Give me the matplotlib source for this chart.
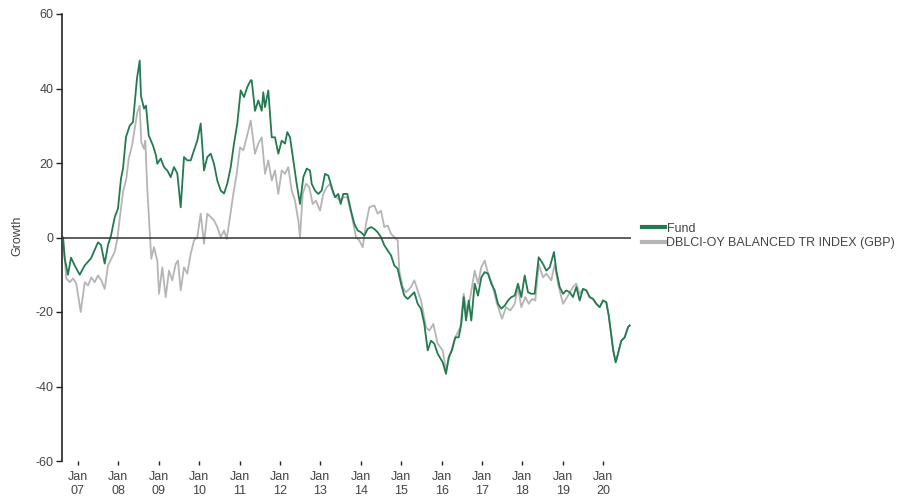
import matplotlib
matplotlib.use("Agg")
import matplotlib.pyplot as plt

plt.rcParams['font.family'] = ['Liberation Sans', 'DejaVu Sans']

# ---- data (decimal years, growth %) ----
fund_t = [2006.629, 2006.671, 2006.752, 2006.827, 2006.918, 2007.042, 2007.166, 2007.322,
          2007.495, 2007.569, 2007.661, 2007.743, 2007.817, 2007.908, 2007.990, 2008.064,
          2008.114, 2008.188, 2008.280, 2008.361, 2008.403, 2008.460, 2008.527, 2008.559,
          2008.634, 2008.683, 2008.750, 2008.856, 2008.931, 2008.963, 2009.047, 2009.129,
          2009.210, 2009.295, 2009.376, 2009.458, 2009.542, 2009.624, 2009.705, 2009.790,
          2009.871, 2009.953, 2010.037, 2010.119, 2010.200, 2010.285, 2010.366, 2010.448,
          2010.532, 2010.614, 2010.696, 2010.780, 2010.861, 2010.943, 2011.027, 2011.109,
          2011.191, 2011.275, 2011.300, 2011.381, 2011.463, 2011.547, 2011.587, 2011.629,
          2011.710, 2011.795, 2011.876, 2011.958, 2012.042, 2012.124, 2012.181, 2012.248,
          2012.329, 2012.413, 2012.495, 2012.577, 2012.661, 2012.743, 2012.785, 2012.866,
          2012.948, 2013.032, 2013.114, 2013.196, 2013.280, 2013.361, 2013.443, 2013.502,
          2013.567, 2013.666, 2013.757, 2013.839, 2013.923, 2014.005, 2014.087, 2014.171,
          2014.252, 2014.334, 2014.418, 2014.500, 2014.582, 2014.666, 2014.748, 2014.829,
          2014.913, 2014.995, 2015.077, 2015.161, 2015.243, 2015.324, 2015.408, 2015.490,
          2015.572, 2015.656, 2015.738, 2015.819, 2015.903, 2016.027, 2016.109, 2016.176,
          2016.257, 2016.339, 2016.423, 2016.488, 2016.547, 2016.604, 2016.671, 2016.735,
          2016.819, 2016.901, 2016.983, 2017.067, 2017.149, 2017.230, 2017.314, 2017.396,
          2017.478, 2017.562, 2017.644, 2017.725, 2017.809, 2017.891, 2017.973, 2018.057,
          2018.139, 2018.220, 2018.304, 2018.403, 2018.510, 2018.592, 2018.676, 2018.782,
          2018.839, 2018.923, 2019.005, 2019.087, 2019.171, 2019.252, 2019.334, 2019.418,
          2019.500, 2019.582, 2019.666, 2019.748, 2019.829, 2019.913, 2019.995, 2020.077,
          2020.136, 2020.186, 2020.248, 2020.309, 2020.366, 2020.448, 2020.532, 2020.614,
          2020.656]
fund_v = [0.0, -5.6, -10.0, -5.4, -7.5, -10.0, -7.5, -5.6,
          -1.3, -2.0, -7.0, -2.0, 0.5, 5.4, 7.8, 15.8,
          18.5, 27.0, 30.0, 31.0, 36.0, 42.7, 47.5, 38.0,
          34.6, 35.4, 27.4, 24.7, 22.0, 19.8, 21.2, 18.9,
          18.0, 16.2, 18.9, 17.2, 8.1, 21.6, 20.7, 20.7,
          23.4, 26.0, 30.6, 18.0, 21.6, 22.5, 19.8, 15.3,
          12.6, 11.8, 14.5, 18.9, 25.2, 30.6, 39.5, 37.7,
          40.4, 42.2, 42.2, 34.0, 36.8, 34.0, 39.0, 35.0,
          39.5, 26.9, 26.9, 22.5, 26.0, 25.2, 28.3, 26.9,
          20.7, 14.4, 9.0, 16.2, 18.5, 18.0, 14.4, 12.6,
          11.7, 12.6, 17.1, 16.6, 13.5, 10.8, 11.7, 9.0,
          11.7, 11.7, 7.2, 3.7, 1.9, 1.4, 0.5, 2.3,
          2.8, 2.3, 1.4, 0.1, -2.1, -3.5, -4.8, -7.5,
          -8.4, -12.4, -15.6, -16.5, -15.6, -14.7, -17.8, -19.1,
          -23.2, -30.3, -27.7, -28.5, -31.2, -33.5, -36.6, -32.1,
          -30.3, -26.8, -26.8, -23.2, -16.0, -22.3, -16.9, -22.3,
          -12.4, -15.6, -10.7, -9.3, -9.7, -12.4, -14.2, -17.8,
          -19.1, -18.3, -16.9, -16.0, -15.6, -12.4, -16.0, -10.2,
          -14.7, -15.1, -15.1, -5.3, -7.1, -8.9, -8.0, -3.9,
          -8.9, -13.3, -15.1, -14.2, -14.7, -16.0, -13.3, -16.9,
          -13.8, -14.2, -16.0, -16.5, -17.8, -18.7, -16.9, -17.4,
          -20.9, -25.0, -30.3, -33.5, -31.2, -27.7, -26.8, -24.1,
          -23.6]

bench_t = [2006.629, 2006.710, 2006.795, 2006.876, 2006.958, 2007.067, 2007.166, 2007.248,
           2007.329, 2007.413, 2007.495, 2007.577, 2007.661, 2007.743, 2007.824, 2007.908,
           2007.973, 2008.032, 2008.114, 2008.196, 2008.255, 2008.337, 2008.403, 2008.468,
           2008.527, 2008.567, 2008.634, 2008.666, 2008.715, 2008.775, 2008.814, 2008.881,
           2008.963, 2009.005, 2009.087, 2009.171, 2009.252, 2009.334, 2009.418, 2009.475,
           2009.542, 2009.624, 2009.705, 2009.790, 2009.871, 2009.953, 2010.037, 2010.119,
           2010.200, 2010.285, 2010.366, 2010.448, 2010.532, 2010.614, 2010.681, 2010.762,
           2010.844, 2010.928, 2011.010, 2011.092, 2011.176, 2011.275, 2011.381, 2011.463,
           2011.547, 2011.629, 2011.710, 2011.795, 2011.876, 2011.958, 2012.042, 2012.124,
           2012.205, 2012.290, 2012.371, 2012.453, 2012.495, 2012.562, 2012.644, 2012.725,
           2012.809, 2012.891, 2012.990, 2013.072, 2013.156, 2013.238, 2013.319, 2013.403,
           2013.485, 2013.567, 2013.666, 2013.800, 2013.881, 2013.963, 2014.047, 2014.129,
           2014.210, 2014.334, 2014.418, 2014.500, 2014.582, 2014.666, 2014.748, 2014.829,
           2014.913, 2014.953, 2015.037, 2015.119, 2015.243, 2015.324, 2015.408, 2015.490,
           2015.614, 2015.696, 2015.795, 2015.903, 2016.027, 2016.109, 2016.215, 2016.339,
           2016.463, 2016.547, 2016.629, 2016.710, 2016.819, 2016.901, 2016.983, 2017.067,
           2017.149, 2017.248, 2017.371, 2017.495, 2017.594, 2017.700, 2017.809, 2017.891,
           2017.973, 2018.072, 2018.158, 2018.238, 2018.319, 2018.403, 2018.510, 2018.592,
           2018.715, 2018.800, 2018.881, 2019.005, 2019.129, 2019.252, 2019.334, 2019.418,
           2019.500, 2019.582, 2019.666, 2019.748, 2019.829, 2019.913, 2019.995, 2020.077,
           2020.136, 2020.186, 2020.248, 2020.309, 2020.366, 2020.448, 2020.532, 2020.614,
           2020.656]
bench_v = [0.0, -11.0, -12.0, -11.0, -12.4, -20.0, -12.0, -12.9,
           -10.7, -12.0, -10.2, -11.5, -13.8, -7.5, -5.7, -3.9,
           -0.4, 5.0, 12.2, 15.8, 21.1, 24.7, 29.2, 33.6,
           35.4, 25.6, 23.8, 26.0, 13.0, 1.4, -5.7, -2.6,
           -6.2, -15.1, -8.0, -16.0, -8.9, -11.5, -7.1, -6.2,
           -14.2, -8.0, -9.7, -4.4, -0.8, 0.1, 6.4, -1.7,
           6.4, 5.5, 4.6, 2.8, 0.1, 1.9, -0.4, 5.5,
           11.7, 17.1, 24.2, 23.4, 26.9, 31.4, 22.5, 25.2,
           26.9, 17.1, 20.7, 15.3, 18.0, 11.7, 18.0, 17.1,
           18.9, 12.6, 9.9, 4.6, 0.1, 11.7, 14.4, 13.5,
           9.0, 9.9, 7.2, 11.7, 13.5, 14.4, 11.7, 10.8,
           9.9, 10.8, 10.8, 4.6, 0.1, -0.8, -2.6, 3.7,
           8.1, 8.6, 6.4, 7.2, 2.8, 3.2, 1.0, 0.1,
           -0.8, -8.9, -13.3, -14.7, -13.3, -11.5, -14.2, -16.9,
           -24.1, -25.0, -23.2, -28.5, -30.3, -35.7, -31.2, -26.8,
           -24.1, -15.1, -20.5, -16.0, -8.9, -12.4, -8.0, -6.2,
           -9.7, -12.4, -17.8, -21.8, -18.7, -19.6, -17.8, -13.3,
           -18.7, -16.0, -17.8, -16.5, -16.9, -7.1, -10.7, -9.7,
           -11.5, -7.1, -12.4, -17.8, -15.6, -13.3, -12.4, -15.1,
           -13.8, -14.2, -16.0, -16.5, -17.8, -18.7, -16.9, -17.4,
           -20.9, -25.0, -30.3, -33.5, -31.2, -27.7, -26.8, -24.1,
           -23.6]

tick_years = list(range(2007, 2021))
tick_labels = ["Jan\n%02d" % (y % 100) for y in tick_years]
y_ticks = [-60, -40, -20, 0, 20, 40, 60]
series_names = ["Fund", "DBLCI-OY BALANCED TR INDEX (GBP)"]

fund_color = "#237a50"
bench_color = "#b5b5b5"
text_color = "#444444"
fs = 9

fig = plt.figure(figsize=(9.11, 4.96), dpi=100)
ax = fig.add_axes([62/911, 35/496, (631-62)/911, (461-14)/496])

ax.plot(bench_t, bench_v, color=bench_color, lw=1.3, label=series_names[1], zorder=2)
ax.plot(fund_t, fund_v, color=fund_color, lw=1.3, label=series_names[0], zorder=3)
ax.axhline(0, color="#333333", lw=1.1, zorder=4)

ax.set_xlim(2006.604, 2020.688)
ax.set_ylim(-60, 60)
ax.set_yticks(y_ticks)
ax.set_yticklabels([str(v) for v in y_ticks])
ax.set_xticks(tick_years)
ax.set_xticklabels(tick_labels, linespacing=1.15)

for s in ["top", "right", "bottom"]:
    ax.spines[s].set_visible(False)
ax.spines["left"].set_color("#222222")
ax.spines["left"].set_linewidth(1.2)
ax.tick_params(axis="y", direction="out", length=4, width=1, color="#222222",
               labelsize=fs, labelcolor=text_color, pad=2)
ax.tick_params(axis="x", direction="out", length=3, width=1, color="#222222",
               labelsize=fs, labelcolor=text_color, pad=4.5)

fig.text(17/911, 1 - 236/496, "Growth", rotation=90, ha="center", va="center",
         fontsize=fs, color=text_color)

handles, labels = ax.get_legend_handles_labels()
order = [1, 0]
leg = fig.legend([handles[i] for i in order], [labels[i] for i in order],
                 loc="center left", bbox_to_anchor=(639/911, 1 - 236/496),
                 frameon=False, fontsize=fs, handlelength=1.85, handletextpad=0.15,
                 labelspacing=0.2, borderpad=0.2, borderaxespad=0)
for line in leg.get_lines():
    line.set_linewidth(3)
for t in leg.get_texts():
    t.set_color(text_color)

fig.savefig("out.png", dpi=100)
